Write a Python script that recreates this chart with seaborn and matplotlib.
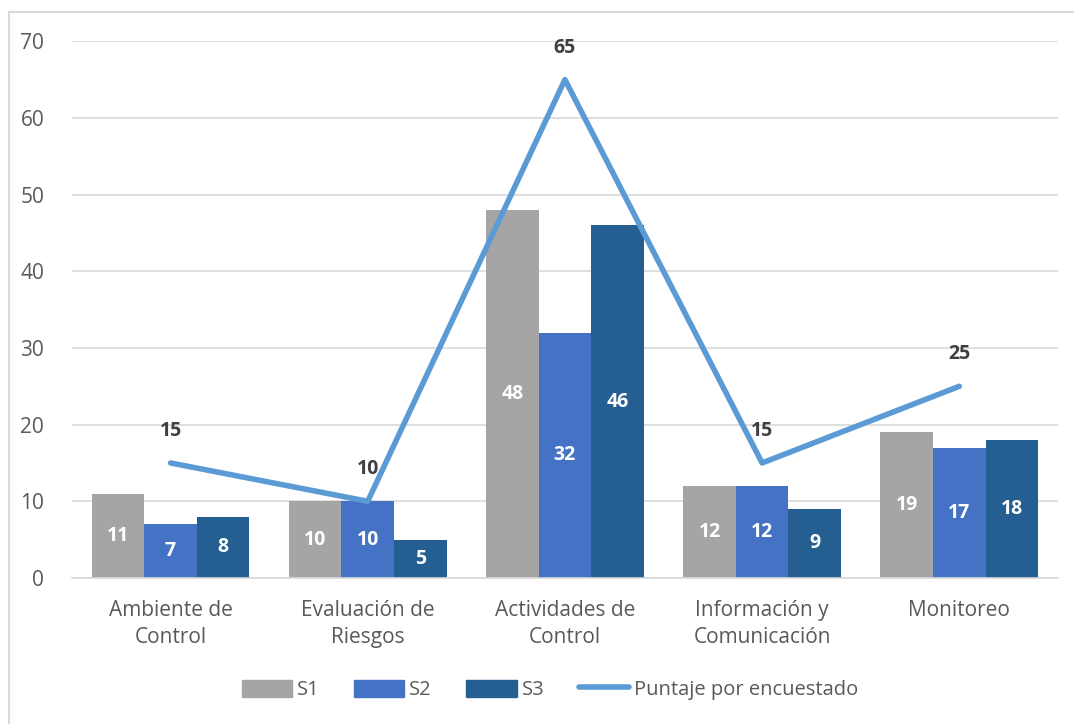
import matplotlib
matplotlib.use('Agg')
import matplotlib.pyplot as plt
import seaborn as sns
import pandas as pd
from matplotlib.patches import Rectangle

categorias = ['Ambiente de\nControl', 'Evaluación de\nRiesgos', 'Actividades de\nControl',
              'Información y\nComunicación', 'Monitoreo']
s1 = [11, 10, 48, 12, 19]
s2 = [7, 10, 32, 12, 17]
s3 = [8, 5, 46, 9, 18]
puntaje = [15, 10, 65, 15, 25]

colores = {'S1': '#A5A5A5', 'S2': '#4472C4', 'S3': '#255E91'}
color_linea = '#5B9BD5'

sns.set_theme(style='white')
plt.rcParams['font.family'] = ['Open Sans', 'DejaVu Sans']

df = pd.DataFrame({'Categoria': categorias * 3,
                   'Serie': ['S1'] * 5 + ['S2'] * 5 + ['S3'] * 5,
                   'Valor': s1 + s2 + s3})

fig = plt.figure(figsize=(10.74, 7.24), dpi=100)
ax = fig.add_axes([0.067, 0.2017, 0.918, 0.7413])

sns.barplot(data=df, x='Categoria', y='Valor', hue='Serie', palette=colores,
            width=0.8, saturation=1, linewidth=0, ax=ax, legend=False)

for cont in ax.containers:
    ax.bar_label(cont, label_type='center', color='white', fontsize=14,
                 fontweight='bold')

x_pos = list(range(len(categorias)))
ax.plot(x_pos, puntaje, color=color_linea, linewidth=4, solid_capstyle='round',
        zorder=5)
for x, v in zip(x_pos, puntaje):
    ax.annotate(str(v), (x, v), xytext=(0, 23), textcoords='offset points',
                ha='center', va='center', fontsize=14, fontweight='bold',
                color='#404040')

ax.set_ylim(0, 70)
ax.set_xlim(-0.5, 4.5)
ax.set_yticks(range(0, 71, 10))
ax.yaxis.grid(True, color='#D9D9D9', linewidth=1.2)
ax.set_axisbelow(True)
ax.set_xlabel('')
ax.set_ylabel('')
for s in ['top', 'right', 'left']:
    ax.spines[s].set_visible(False)
ax.spines['bottom'].set_color('#D9D9D9')
ax.spines['bottom'].set_linewidth(1.2)
ax.tick_params(axis='y', labelsize=15, labelcolor='#595959', length=0, pad=20)
ax.tick_params(axis='x', labelsize=15, labelcolor='#595959', length=0, pad=16)
for lbl in ax.get_xticklabels():
    lbl.set_linespacing(1.35)
ax.set_xticks([x - 0.5 for x in range(6)], minor=True)
ax.tick_params(axis='x', which='minor', length=8, color='#D9D9D9', width=1.2)

handles = [Rectangle((0, 0), 1, 1, color=colores[k]) for k in ['S1', 'S2', 'S3']]
handles.append(plt.Line2D([0], [0], color=color_linea, linewidth=4,
                          solid_capstyle='round'))
fig.legend(handles, ['S1', 'S2', 'S3', 'Puntaje por encuestado'], loc='center',
           bbox_to_anchor=(0.512, 0.047), ncol=4, frameon=False, fontsize=14.5,
           labelcolor='#595959', handlelength=2.5, handleheight=0.9,
           columnspacing=1.7, handletextpad=0.25)

fig.add_artist(Rectangle((0.008, -0.01), 1.0, 0.993, transform=fig.transFigure,
                         fill=False, edgecolor='#D9D9D9', linewidth=1.5))

fig.savefig('out.png', dpi=100)
